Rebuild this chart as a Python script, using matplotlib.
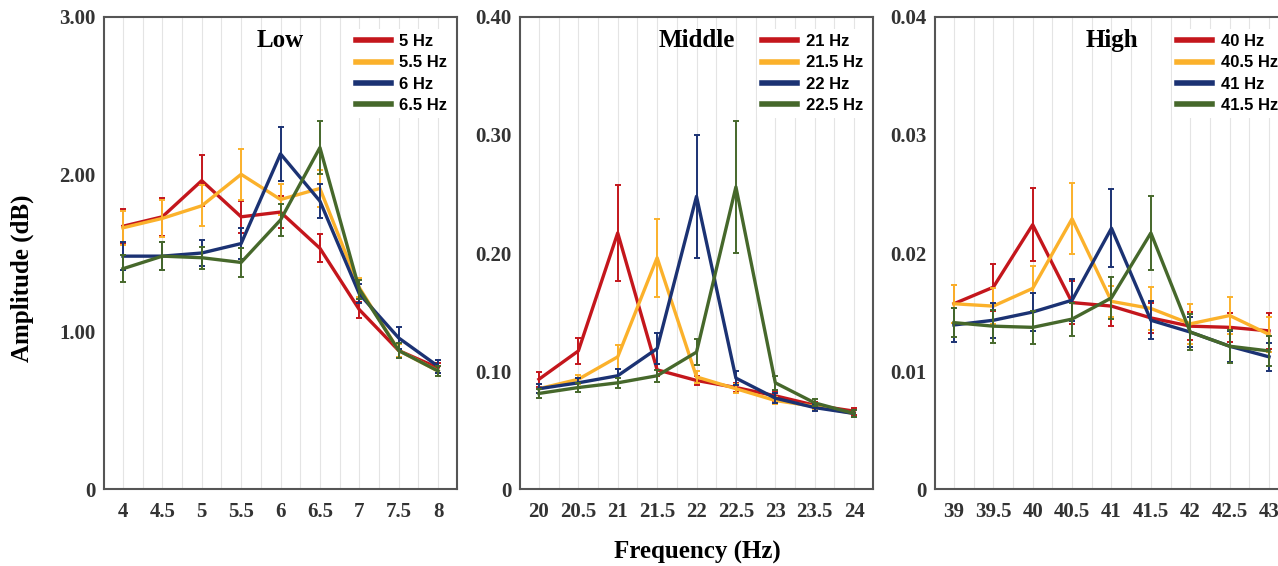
import matplotlib
matplotlib.use("Agg")
import matplotlib.pyplot as plt
import numpy as np

# frequencies on the x axis of each panel
low_x = [4, 4.5, 5, 5.5, 6, 6.5, 7, 7.5, 8]
mid_x = [20, 20.5, 21, 21.5, 22, 22.5, 23, 23.5, 24]
high_x = [39, 39.5, 40, 40.5, 41, 41.5, 42, 42.5, 43]

low_names = ["5 Hz", "5.5 Hz", "6 Hz", "6.5 Hz"]
mid_names = ["21 Hz", "21.5 Hz", "22 Hz", "22.5 Hz"]
high_names = ["40 Hz", "40.5 Hz", "41 Hz", "41.5 Hz"]

# amplitude means (dB)
low_y = [
    [1.67, 1.73, 1.96, 1.73, 1.76, 1.53, 1.14, 0.88, 0.77],
    [1.66, 1.72, 1.80, 2.00, 1.84, 1.91, 1.28, 0.88, 0.75],
    [1.48, 1.48, 1.50, 1.56, 2.13, 1.83, 1.24, 0.96, 0.78],
    [1.40, 1.48, 1.47, 1.44, 1.71, 2.17, 1.27, 0.88, 0.75],
]
low_err = [
    [0.11, 0.12, 0.16, 0.10, 0.10, 0.09, 0.05, 0.04, 0.03],
    [0.11, 0.12, 0.13, 0.16, 0.10, 0.12, 0.06, 0.04, 0.03],
    [0.09, 0.09, 0.085, 0.10, 0.17, 0.11, 0.06, 0.07, 0.04],
    [0.085, 0.09, 0.07, 0.09, 0.10, 0.17, 0.06, 0.05, 0.03],
]

mid_y = [
    [0.093, 0.117, 0.217, 0.101, 0.092, 0.086, 0.079, 0.071, 0.066],
    [0.085, 0.093, 0.112, 0.196, 0.095, 0.085, 0.075, 0.070, 0.064],
    [0.085, 0.090, 0.096, 0.119, 0.248, 0.094, 0.077, 0.069, 0.064],
    [0.081, 0.086, 0.090, 0.096, 0.116, 0.256, 0.090, 0.073, 0.064],
]
mid_err = [
    [0.0065, 0.011, 0.041, 0.005, 0.004, 0.004, 0.004, 0.003, 0.003],
    [0.004, 0.004, 0.010, 0.033, 0.005, 0.004, 0.003, 0.003, 0.003],
    [0.004, 0.004, 0.006, 0.013, 0.052, 0.006, 0.004, 0.003, 0.003],
    [0.004, 0.004, 0.004, 0.005, 0.011, 0.056, 0.006, 0.003, 0.003],
]

high_y = [
    [0.0157, 0.0171, 0.0224, 0.0158, 0.0155, 0.0145, 0.0138, 0.0137, 0.0134],
    [0.0157, 0.0155, 0.0170, 0.0229, 0.0159, 0.0153, 0.0140, 0.0147, 0.0131],
    [0.0139, 0.0143, 0.0150, 0.0160, 0.0221, 0.0143, 0.0133, 0.0121, 0.0112],
    [0.0141, 0.0138, 0.0137, 0.0144, 0.0162, 0.0217, 0.0133, 0.0121, 0.0117],
]
high_err = [
    [0.0016, 0.0020, 0.0031, 0.0018, 0.0017, 0.0013, 0.0012, 0.0012, 0.0015],
    [0.0016, 0.0015, 0.0019, 0.0030, 0.0013, 0.0018, 0.0017, 0.0016, 0.0015],
    [0.0014, 0.0015, 0.0016, 0.0018, 0.0033, 0.0016, 0.0013, 0.0013, 0.0012],
    [0.0012, 0.0014, 0.0014, 0.0014, 0.0018, 0.0031, 0.0015, 0.0014, 0.0013],
]

low_yticks = [0, 1, 2, 3]
low_ylabels = ["0", "1.00", "2.00", "3.00"]
mid_yticks = [0, 0.1, 0.2, 0.3, 0.4]
mid_ylabels = ["0", "0.10", "0.20", "0.30", "0.40"]
high_yticks = [0, 0.01, 0.02, 0.03, 0.04]
high_ylabels = ["0", "0.01", "0.02", "0.03", "0.04"]

colors = ["#C4161C", "#FBB12B", "#1B3273", "#46682B"]
serif = "Liberation Serif"
sans = "Liberation Sans"

fig = plt.figure(figsize=(12.78, 5.66), dpi=100)


def panel(left, xs, ys, errs, names, yticks, ylabels, title):
    ax = fig.add_axes([left, 0.136, 0.2762, 0.834])
    for y, e, c, n in zip(ys, errs, colors, names):
        ax.errorbar(xs, y, yerr=e, fmt="none", ecolor=c, elinewidth=1.4,
                    capsize=2.5, capthick=1.4)
        ax.plot(xs, y, color=c, lw=2.4, label=n)
    ax.set_xlim(xs[0] - 0.24, xs[-1] + 0.24)
    ax.set_ylim(yticks[0], yticks[-1])
    ax.set_xticks(xs)
    ax.set_xticklabels([("%g" % v) for v in xs])
    ax.set_xticks(np.arange(xs[0], xs[-1] + 0.01, 0.25), minor=True)
    ax.set_yticks(yticks)
    ax.set_yticklabels(ylabels)
    ax.grid(axis="x", which="both", color="#e4e4e4", lw=0.8)
    ax.set_axisbelow(True)
    ax.tick_params(which="both", length=0)
    ax.tick_params(axis="y", pad=6)
    ax.tick_params(axis="x", pad=9)
    for lab in ax.get_xticklabels() + ax.get_yticklabels():
        lab.set_fontfamily(serif)
        lab.set_fontweight("bold")
        lab.set_fontsize(15)
        lab.set_color("#333333")
    for s in ax.spines.values():
        s.set_color("#555555")
        s.set_linewidth(1.5)
    ax.text(0.5, 0.951, title, transform=ax.transAxes, ha="center", va="center",
            fontfamily=serif, fontweight="bold", fontsize=18)
    leg = ax.legend(loc="upper right", bbox_to_anchor=(1.0, 0.985), frameon=True,
                    prop={"family": sans, "weight": "bold", "size": 12},
                    handlelength=2.1, handletextpad=0.5, labelspacing=0.38,
                    borderaxespad=0.3, borderpad=0.3)
    leg.get_frame().set_edgecolor("none")
    leg.get_frame().set_facecolor("white")
    leg.get_frame().set_alpha(1)
    for h in leg.get_lines():
        h.set_linewidth(4)
    return ax


panel(0.0814, low_x, low_y, low_err, low_names, low_yticks, low_ylabels, "Low")
panel(0.4069, mid_x, mid_y, mid_err, mid_names, mid_yticks, mid_ylabels, "Middle")
panel(0.7316, high_x, high_y, high_err, high_names, high_yticks, high_ylabels, "High")

fig.text(22 / 1278, 1 - 278 / 566, "Amplitude (dB)", rotation=90, ha="center", va="center",
         fontfamily=serif, fontweight="bold", fontsize=18)
fig.text(697 / 1278, 1 - 552 / 566, "Frequency (Hz)", ha="center", va="center",
         fontfamily=serif, fontweight="bold", fontsize=18)

fig.savefig("out.png", dpi=100)
